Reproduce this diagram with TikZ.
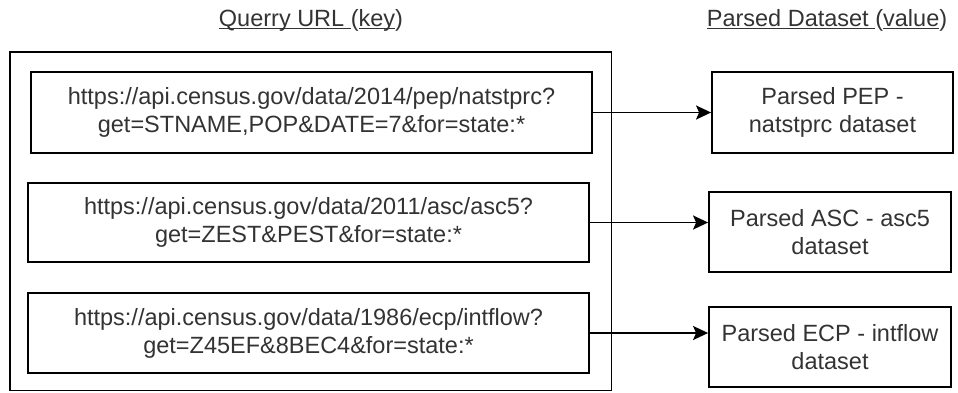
\documentclass[tikz,border=0pt]{standalone}
\usepackage{fontspec}
\setmainfont{Liberation Sans}
\usetikzlibrary{arrows.meta}
\definecolor{txt}{HTML}{333333}
\newcommand\myul[1]{\setbox0\hbox{#1}\rlap{\rule[-3pt]{\wd0}{1.3pt}}\box0}
\tikzset{
  box/.style={draw=black, line width=1.8pt, rectangle, align=center, inner sep=0pt, text=txt,
    font=\fontsize{23.5}{28}\selectfont},
  title/.style={text=txt, inner sep=0pt, font=\fontsize{23.5}{28}\selectfont},
  conn/.style={line width=1.8pt, -{Stealth[length=15pt,width=14pt,inset=3pt]}}
}
\begin{document}
\begin{tikzpicture}[x=1pt,y=-1pt]
\useasboundingbox (0,0) rectangle (958,392);
\node[box, minimum width=601.5pt, minimum height=338.5pt] (outer) at (310.75,221.25) {};
\node[title] (tkey) at (311,20) {\myul{Querry URL }(\myul{key})};
\node[title] (tval) at (827,20) {\myul{Parsed Dataset }(\myul{value})};
\node[box, minimum width=561pt, minimum height=81pt] (b1) at (311.5,112.5)
  {https://api.census.gov/data/2014/pep/natstprc?\\get=STNAME,POP\&DATE=7\&for=state:*};
\node[box, minimum width=561pt, minimum height=79pt] (b2) at (308.5,222.5)
  {https://api.census.gov/data/2011/asc/asc5?\\get=ZEST\&PEST\&for=state:*};
\node[box, minimum width=561pt, minimum height=80pt] (b3) at (308.5,333)
  {https://api.census.gov/data/1986/ecp/intflow?\\get=Z45EF\&8BEC4\&for=state:*};
\node[box, minimum width=241pt, minimum height=81pt] (pep) at (832.5,112.5)
  {Parsed PEP -\\natstprc dataset};
\node[box, minimum width=242pt, minimum height=80pt] (asc) at (830,232)
  {Parsed ASC - asc5\\dataset};
\node[box, minimum width=242pt, minimum height=80pt] (ecp) at (830,347)
  {Parsed ECP - intflow\\dataset};
\draw[conn] (b1.east) -- (b1.east -| pep.west);
\draw[conn] (b2.east) -- (b2.east -| asc.west);
\draw[conn] (b3.east) -- (b3.east -| ecp.west);
\end{tikzpicture}
\end{document}
